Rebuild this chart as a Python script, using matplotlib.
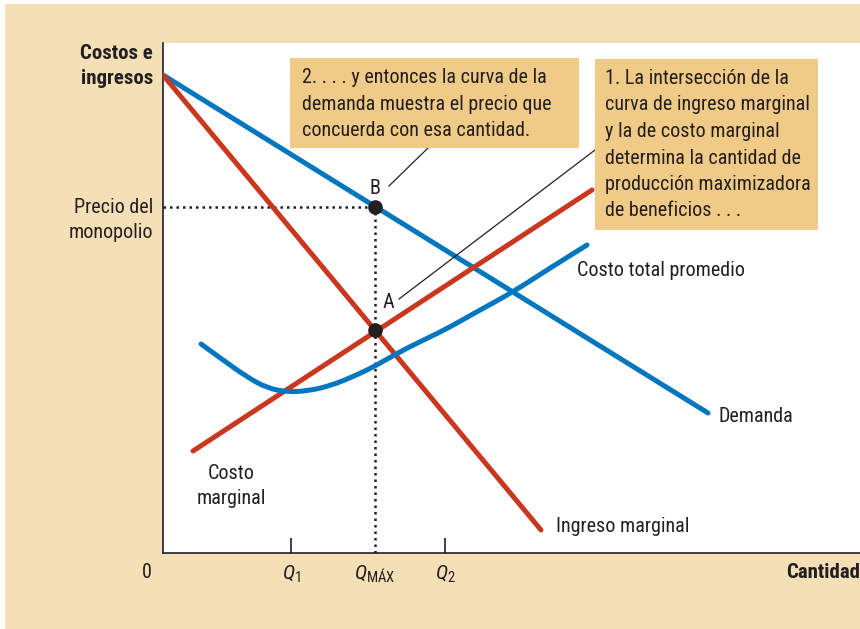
#!/usr/bin/env python
"""Monopolio: ingreso marginal, costo marginal y demanda"""

# %% import modules
import matplotlib.pyplot as plt
from matplotlib.patches import Rectangle, PathPatch
from matplotlib.path import Path

# %% data (quantity / price in arbitrary units)
demand_q = [0, 545]
demand_p = [478, 140]
mr_q = [0, 378]
mr_p = [478, 23]
mc_q = [30, 429]
mc_p = [102, 363]
atc_q = [38, 60, 84, 104, 124, 144, 167, 194, 214, 240, 267, 287, 317, 350, 387, 424]
atc_p = [209, 193, 176, 165, 161, 162, 167, 178, 188, 203, 216, 226, 243, 261, 285, 308]
q_max = 212
p_mono = 346
p_a = 223
q1, q2 = 128, 282

blue = "#0076BF"
red = "#C9381E"
ink = "#231F20"
beige = "#F5DFB6"
tan = "#EFCB87"
font = ["Roboto Condensed", "Liberation Sans Narrow", "DejaVu Sans"]
fs = 14.5
ls_ = 1.42

plt.rcParams["font.family"] = font
plt.rcParams["mathtext.fontset"] = "custom"
plt.rcParams["mathtext.rm"] = "Roboto Condensed"
plt.rcParams["mathtext.it"] = "Roboto Condensed:italic"
plt.rcParams["text.color"] = ink

# %% figure and background
fig = plt.figure(figsize=(8.6, 6.29), dpi=100, facecolor="white")
fig.patches.append(Rectangle((5 / 860, 0), 1, 625 / 629, transform=fig.transFigure,
                             facecolor=beige, edgecolor="none", zorder=-10))
ax = fig.add_axes([163 / 860, 76 / 629, 697 / 860, 510 / 629])
ax.set_facecolor("white")
ax.set_xlim(0, 697)
ax.set_ylim(0, 510)
for s in ["top", "right"]:
    ax.spines[s].set_visible(False)
for s in ["left", "bottom"]:
    ax.spines[s].set_color(ink)
    ax.spines[s].set_linewidth(1.2)

# %% curves
lw = 3.6
ax.plot(demand_q, demand_p, color=blue, lw=lw, solid_capstyle="round", zorder=3)
ax.plot(mr_q, mr_p, color=red, lw=lw, solid_capstyle="round", zorder=3)
ax.plot(mc_q, mc_p, color=red, lw=lw, solid_capstyle="round", zorder=3)

# average total cost: smooth quadratic path with the read points as control points
pts = list(zip(atc_q, atc_p))
verts = [pts[0]]
codes = [Path.MOVETO]
for i in range(1, len(pts) - 1):
    mid = ((pts[i][0] + pts[i + 1][0]) / 2, (pts[i][1] + pts[i + 1][1]) / 2)
    if i == len(pts) - 2:
        mid = pts[-1]
    verts += [pts[i], mid]
    codes += [Path.CURVE3, Path.CURVE3]
ax.add_patch(PathPatch(Path(verts, codes), facecolor="none", edgecolor=blue, lw=lw,
                       capstyle="round", zorder=3))

# dotted guides
ax.plot([0, q_max], [p_mono, p_mono], color=ink, lw=1.8, ls=(0, (1, 1.6)), zorder=2)
ax.plot([q_max, q_max], [0, p_mono], color=ink, lw=1.8, ls=(0, (1, 1.6)), zorder=2)
ax.plot([q_max, q_max], [p_a, p_mono], "o", color=ink, ms=9.5, zorder=5)

# %% ticks
ax.set_yticks([])
ax.set_xticks([q1, q2], [r"$\it{Q}_1$", r"$\it{Q}_2$"])
ax.set_xticks([q_max], [r"$\it{Q}_{\rm{MÁX}}$"], minor=True)
ax.tick_params(axis="x", which="major", direction="in", length=11, width=1.2, color=ink,
               pad=8, labelsize=15, labelcolor=ink)
ax.tick_params(axis="x", which="minor", length=0, pad=8, labelsize=15, labelcolor=ink)

# %% labels
ax.text(-10, 487, "Costos e\ningresos", ha="right", va="center", fontsize=15,
        fontweight="bold", linespacing=ls_)
ax.text(697, -19, "Cantidad", ha="right", va="center", fontsize=15, fontweight="bold")
ax.text(-16, -19, "0", ha="center", va="center", fontsize=fs)
ax.text(-10, 333, "Precio del\nmonopolio", ha="right", va="center", fontsize=fs, linespacing=ls_)
ax.text(212, 365, "B", ha="center", va="center", fontsize=fs)
ax.text(225, 250, "A", ha="center", va="center", fontsize=fs)
ax.text(393, 26, "Ingreso marginal", ha="left", va="center", fontsize=fs)
ax.text(414, 283, "Costo total promedio", ha="left", va="center", fontsize=fs)
ax.text(556, 137, "Demanda", ha="left", va="center", fontsize=fs)
ax.text(68, 67, "Costo\nmarginal", ha="center", va="center", fontsize=fs, linespacing=ls_)

# %% annotation boxes and leader lines
ax.add_patch(Rectangle((127, 405), 289, 90, facecolor=tan, edgecolor="none", zorder=6))
ax.add_patch(Rectangle((432, 323), 223, 171, facecolor=tan, edgecolor="none", zorder=6))
ax.text(139, 485, "2. . . . y entonces la curva de la\ndemanda muestra el precio que\n"
        "concuerda con esa cantidad.", ha="left", va="top", fontsize=fs, linespacing=1.5,
        zorder=7)
ax.text(442, 484, "1. La intersección de la\ncurva de ingreso marginal\ny la de costo marginal\n"
        "determina la cantidad de\nproducción maximizadora\nde beneficios . . .",
        ha="left", va="top", fontsize=fs, linespacing=1.5, zorder=7)
ax.plot([226, 265], [367, 405], color=ink, lw=0.9, zorder=4)
ax.plot([236, 432], [254, 403], color=ink, lw=0.9, zorder=4)

plt.savefig("out.png", dpi=100, facecolor=fig.get_facecolor())
plt.close()
